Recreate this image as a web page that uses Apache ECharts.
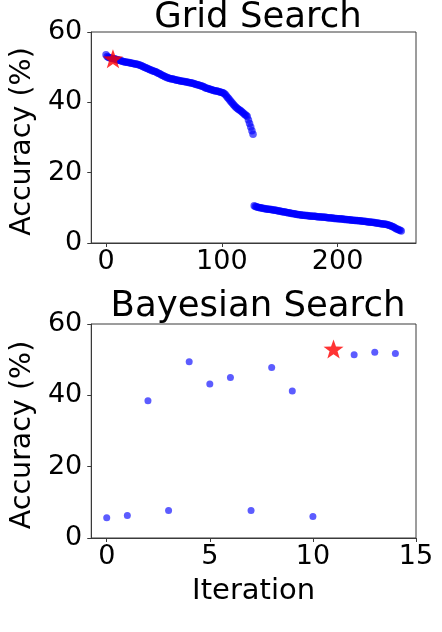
<!DOCTYPE html>
<html>
<head>
<meta charset="utf-8">
<script src="https://cdn.jsdelivr.net/npm/echarts@6/dist/echarts.min.js"></script>
<style>
  html, body { margin: 0; padding: 0; background: #fff; }
  #chart { width: 442px; height: 632px; }
</style>
</head>
<body>
<div id="chart"></div>
<script>
// grid search: accuracy of each configuration, sorted high to low
var gridHigh = [
  53.5, 53.0, 52.8, 52.7, 52.6, 52.5, 52.5, 52.4, 52.3, 52.2,
  52.1, 52.0, 51.9, 51.8, 51.7, 51.6, 51.5, 51.5, 51.4, 51.3,
  51.3, 51.2, 51.1, 51.1, 51.0, 50.9, 50.9, 50.8, 50.7, 50.6,
  50.5, 50.3, 50.2, 50.0, 49.9, 49.7, 49.6, 49.4, 49.3, 49.2,
  49.0, 48.9, 48.8, 48.7, 48.5, 48.3, 48.2, 48.0, 47.8, 47.6,
  47.5, 47.3, 47.2, 47.0, 46.9, 46.8, 46.7, 46.6, 46.6, 46.5,
  46.4, 46.3, 46.3, 46.2, 46.1, 46.1, 46.0, 45.9, 45.9, 45.8,
  45.8, 45.7, 45.6, 45.6, 45.5, 45.4, 45.3, 45.2, 45.1, 45.0,
  44.9, 44.8, 44.7, 44.6, 44.5, 44.3, 44.1, 44.0, 43.9, 43.8,
  43.7, 43.6, 43.5, 43.4, 43.3, 43.2, 43.2, 43.1, 43.0, 42.9,
  42.8, 42.7, 42.5, 42.2, 41.8, 41.4, 41.0, 40.6, 40.2, 39.8,
  39.4, 39.0, 38.7, 38.4, 38.1, 37.9, 37.7, 37.4, 37.1, 36.8,
  36.5, 36.3, 36.0, 35.0, 34.0, 33.0, 31.9, 30.9
];
var gridLow = [
  10.6, 10.4, 10.3, 10.2, 10.1, 10.0, 10.0, 9.9, 9.8, 9.8,
  9.7, 9.7, 9.6, 9.6, 9.5, 9.5, 9.4, 9.4, 9.3, 9.3,
  9.2, 9.1, 9.1, 9.0, 8.9, 8.9, 8.8, 8.8, 8.7, 8.6,
  8.6, 8.5, 8.4, 8.4, 8.3, 8.3, 8.2, 8.1, 8.1, 8.0,
  8.0, 7.9, 7.9, 7.9, 7.8, 7.8, 7.8, 7.7, 7.7, 7.7,
  7.6, 7.6, 7.6, 7.6, 7.5, 7.5, 7.5, 7.4, 7.4, 7.4,
  7.3, 7.3, 7.3, 7.2, 7.2, 7.2, 7.1, 7.1, 7.1, 7.0,
  7.0, 7.0, 6.9, 6.9, 6.9, 6.8, 6.8, 6.8, 6.7, 6.7,
  6.7, 6.6, 6.6, 6.6, 6.5, 6.5, 6.5, 6.4, 6.4, 6.4,
  6.3, 6.3, 6.3, 6.2, 6.2, 6.2, 6.1, 6.1, 6.0, 6.0,
  6.0, 5.9, 5.9, 5.8, 5.8, 5.7, 5.7, 5.6, 5.6, 5.5,
  5.5, 5.4, 5.4, 5.3, 5.3, 5.2, 5.1, 5.0, 4.9, 4.7,
  4.6, 4.4, 4.2, 4.0, 3.9, 3.7, 3.6, 3.4
];
var gridBest = [6, 52.4];

// bayesian search: accuracy per iteration
var bayesIter = [0, 1, 2, 3, 4, 5, 6, 7, 8, 9, 10, 12, 13, 14];
var bayesAcc = [5.7, 6.3, 38.5, 7.7, 49.4, 43.2, 45.0, 7.7, 47.8, 41.2, 6.0, 51.4, 52.1, 51.7];
var bayesBest = [11, 53.0];

var gridTicks = [0, 100, 200];
var bayesTicks = [0, 5, 10, 15];
var yTicks = [0, 20, 40, 60];

var gridValues = gridHigh.concat(gridLow);
var gridData = gridValues.map(function (v, i) { return [i, v]; });
var bayesData = bayesIter.map(function (x, i) { return [x, bayesAcc[i]]; });

var starPath = 'path://M0,-10L2.35,-3.24L9.51,-3.09L3.8,1.24L5.88,8.09L0,4L-5.88,8.09L-3.8,1.24L-9.51,-3.09L-2.35,-3.24Z';
var font = 'DejaVu Sans';
var spine = '#3a3a3a';
var dotColor = 'rgba(0,0,255,0.8)';

function xAxisOf(idx, min, max, ticks, name) {
  return {
    type: 'value', gridIndex: idx, min: min, max: max,
    name: name, nameLocation: 'middle', nameGap: 39,
    nameTextStyle: { fontFamily: font, fontSize: 29, color: '#000' },
    axisLine: { show: true, onZero: false, lineStyle: { color: spine, width: 1 } },
    axisTick: { show: true, inside: false, length: 4, customValues: ticks, lineStyle: { color: spine } },
    axisLabel: { show: true, margin: 5, customValues: ticks, fontFamily: font, fontSize: 27, color: '#000' },
    splitLine: { show: false }
  };
}
function yAxisOf(idx) {
  return {
    type: 'value', gridIndex: idx, min: 0, max: 60,
    name: 'Accuracy (%)', nameLocation: 'middle', nameGap: 44, nameRotate: 90,
    nameTextStyle: { fontFamily: font, fontSize: 28.5, color: '#000', padding: [0, 8, 0, 0] },
    axisLine: { show: true, onZero: false, lineStyle: { color: spine, width: 1 } },
    axisTick: { show: true, inside: false, length: 4, customValues: yTicks, lineStyle: { color: spine } },
    axisLabel: { show: true, margin: 9, customValues: yTicks, fontFamily: font, fontSize: 27, color: '#000' },
    splitLine: { show: false }
  };
}

var myChart = echarts.init(document.getElementById('chart'), null, { renderer: 'canvas' });
var option = {
  animation: false,
  backgroundColor: '#fff',
  title: [
    { text: 'Grid Search', left: 253, top: -5, textAlign: 'center',
      textStyle: { fontFamily: font, fontSize: 35.5, fontWeight: 'normal', color: '#000' } },
    { text: 'Bayesian Search', left: 253, top: 284, textAlign: 'center',
      textStyle: { fontFamily: font, fontSize: 35.5, fontWeight: 'normal', color: '#000' } }
  ],
  grid: [
    { left: 90, top: 32, width: 326, height: 211, show: true, borderColor: spine, borderWidth: 1, backgroundColor: 'transparent' },
    { left: 90, top: 324, width: 326, height: 214, show: true, borderColor: spine, borderWidth: 1, backgroundColor: 'transparent' }
  ],
  xAxis: [
    xAxisOf(0, -12.75, 267.75, gridTicks, ''),
    xAxisOf(1, -0.75, 15, bayesTicks, 'Iteration')
  ],
  yAxis: [yAxisOf(0), yAxisOf(1)],
  series: [
    { type: 'scatter', xAxisIndex: 0, yAxisIndex: 0, data: gridData, symbol: 'circle', symbolSize: 7.5,
      itemStyle: { color: dotColor } },
    { type: 'scatter', xAxisIndex: 0, yAxisIndex: 0, data: [gridBest], symbol: starPath, symbolSize: 20, symbolKeepAspect: true,
      itemStyle: { color: '#ff0000' }, z: 5 },
    { type: 'scatter', xAxisIndex: 1, yAxisIndex: 1, data: bayesData, symbol: 'circle', symbolSize: 7,
      itemStyle: { color: dotColor } },
    { type: 'scatter', xAxisIndex: 1, yAxisIndex: 1, data: [bayesBest], symbol: starPath, symbolSize: 20, symbolKeepAspect: true,
      itemStyle: { color: '#ff0000' }, z: 5 }
  ]
};
myChart.setOption(option);
</script>
</body>
</html>
